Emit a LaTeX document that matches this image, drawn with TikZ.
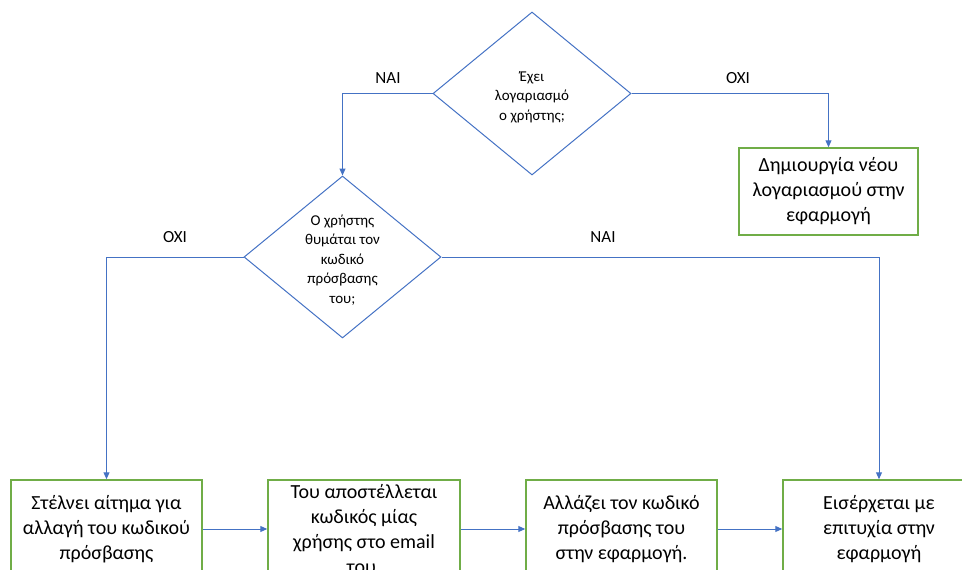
\documentclass[tikz,border=0pt]{standalone}
\usepackage{fontspec}
\setmainfont{Carlito}
\usetikzlibrary{shapes.geometric,arrows.meta}
\definecolor{flowblue}{HTML}{4472C4}
\definecolor{boxgreen}{HTML}{70AD47}
\begin{document}
\begin{tikzpicture}[x=1pt,y=-1pt,
  decision/.style={diamond, draw=flowblue, line width=1pt, inner sep=0pt},
  dtext/.style={align=center, font=\fontsize{15}{19.5}\selectfont},
  stepbox/.style={draw=boxgreen, line width=1.5pt, align=center, inner sep=0pt,
    font=\fontsize{20}{25}\selectfont},
  link/.style={draw=flowblue, line width=1pt, -{Triangle[length=7pt,width=6pt]}},
  lbl/.style={font=\fontsize{17}{20}\selectfont}]
\useasboundingbox (0,0) rectangle (962,570);
\clip (0,0) rectangle (962,570);

% decisions
\node[decision, minimum width=198pt, minimum height=163pt] (d1) at (532,93.5) {};
\node[dtext] (t1) at (532,97) {Έχει\\λογαριασμό\\ο χρήστης;};
\node[decision, minimum width=197pt, minimum height=162pt] (d2) at (342.5,257) {};
\node[dtext] (t2) at (342.5,260) {Ο χρήστης\\θυμάται τον\\κωδικό\\πρόσβασης\\του;};

% process boxes
\node[stepbox, minimum width=179pt, minimum height=87pt] (newacc) at (828.5,191.5)
  {Δημιουργία νέου\\λογαριασμού στην\\εφαρμογή};
\node[stepbox, minimum width=191pt, minimum height=98pt] (b1) at (106.5,529)
  {Στέλνει αίτημα για\\αλλαγή του κωδικού\\πρόσβασης};
\node[stepbox, minimum width=192pt, minimum height=98pt] (b2) at (364,529)
  {Του αποστέλλεται\\κωδικός μίας\\χρήσης στο email\\του.};
\node[stepbox, minimum width=191pt, minimum height=98pt] (b3) at (621.5,529)
  {Αλλάζει τον κωδικό\\πρόσβασης του\\στην εφαρμογή.};
\node[stepbox, minimum width=192pt, minimum height=98pt] (b4) at (879,529)
  {Εισέρχεται με\\επιτυχία στην\\εφαρμογή};

% connectors
\draw[link] (d1.west) -| (d2.north);
\draw[link] (d1.east) -| (newacc.north);
\draw[link] (d2.west) -| (b1.north);
\draw[link] (d2.east) -| (b4.north);
\draw[link] (b1.east) -- (b2.west);
\draw[link] (b2.east) -- (b3.west);
\draw[link] (b3.east) -- (b4.west);

% branch labels
\node[lbl] (yes1) at (388,78) {ΝΑΙ};
\node[lbl] (no1) at (738,78) {ΟΧΙ};
\node[lbl] (no2) at (175,237) {ΟΧΙ};
\node[lbl] (yes2) at (603,237) {ΝΑΙ};
\end{tikzpicture}
\end{document}
